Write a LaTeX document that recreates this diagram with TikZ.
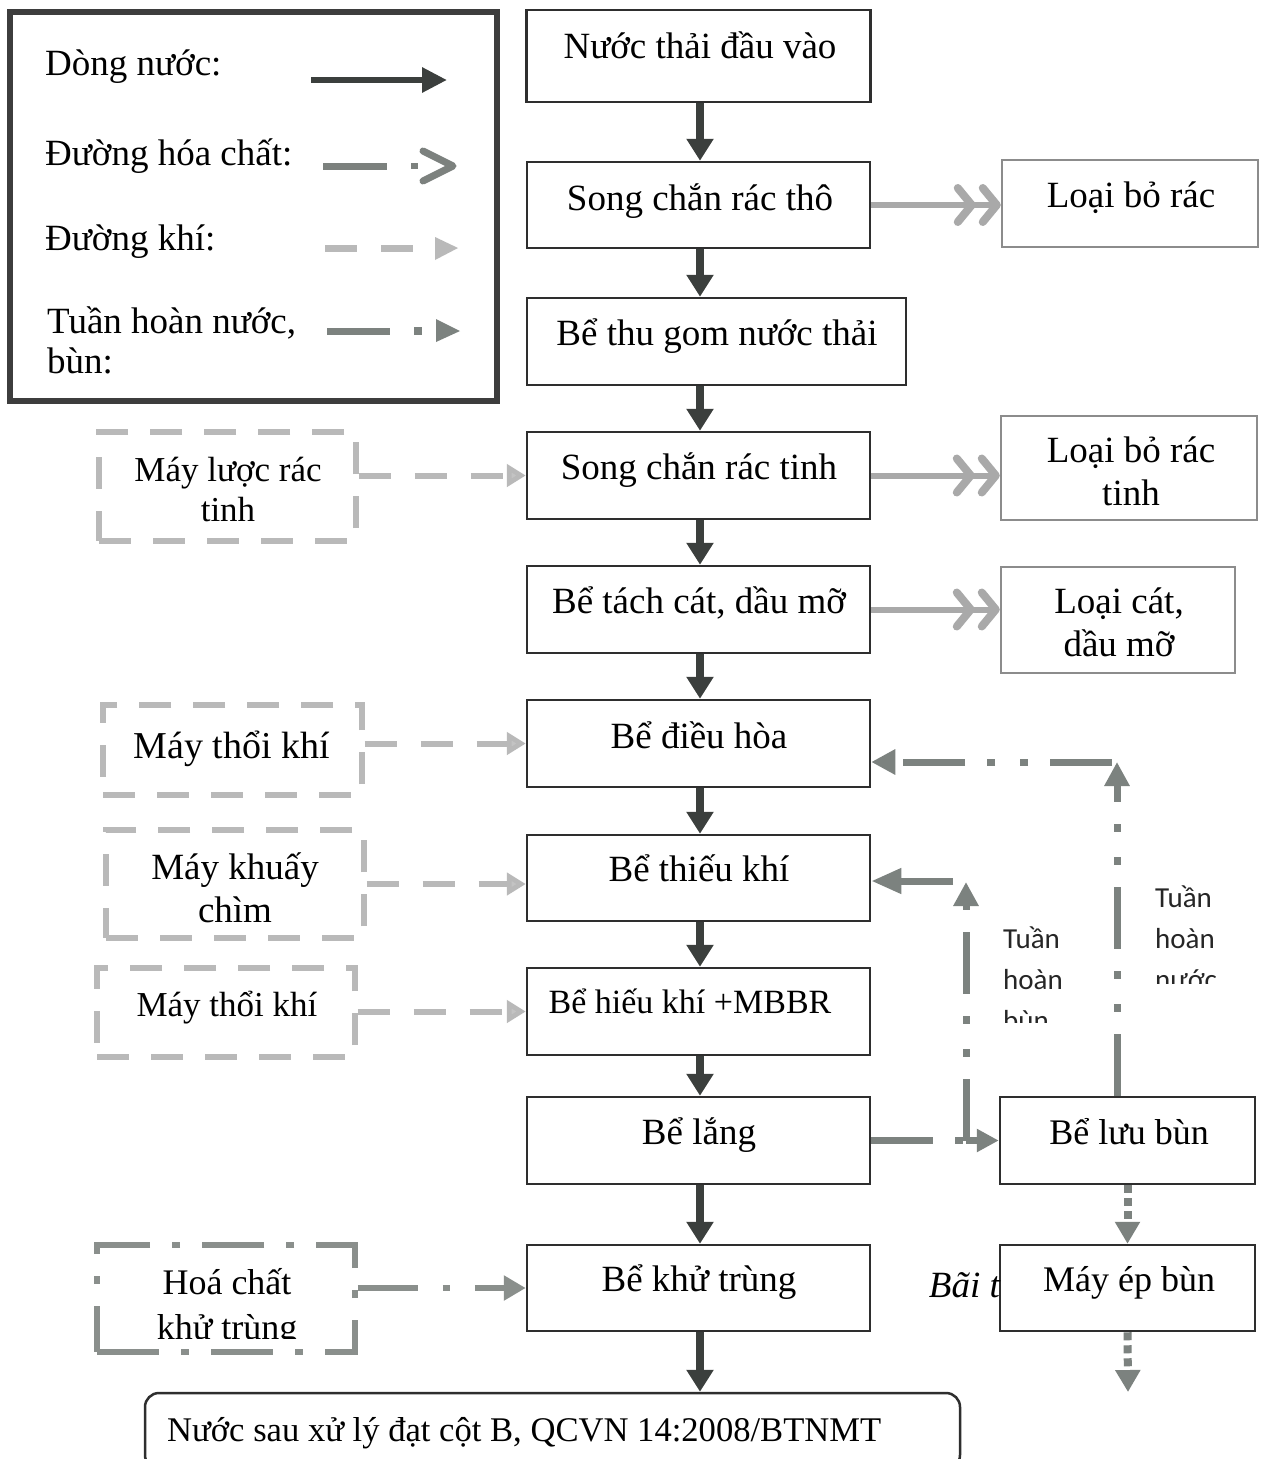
\documentclass[tikz,border=0pt]{standalone}
\usepackage{fontspec}
\setmainfont{Liberation Serif}
\newfontfamily\sansf{Carlito}
\usetikzlibrary{arrows.meta}
\definecolor{boxc}{HTML}{2E2E2E}
\definecolor{waterc}{HTML}{3B3F3D}
\definecolor{grayc}{HTML}{A9A9A9}
\definecolor{airc}{HTML}{B9B9B9}
\definecolor{recc}{HTML}{7C827F}
\definecolor{chemc}{HTML}{8A8F8C}
\definecolor{rboxc}{HTML}{8C8C8C}
\definecolor{legc}{HTML}{3D3D3D}
\newcommand\myfs[1]{\fontsize{#1}{#1}\selectfont}
\tikzset{
  mainbox/.style={draw=boxc,line width=2.5pt,fill=white,inner sep=0pt,rectangle},
  rbox/.style={draw=rboxc,line width=2.5pt,fill=white,inner sep=0pt,rectangle},
  airbox/.style={draw=airc,line width=5.5pt,dash pattern=on 32pt off 22pt,inner sep=0pt,rectangle},
  chembox/.style={draw=chemc,line width=5.5pt,dash pattern=on 62pt off 22pt on 8pt off 22pt,inner sep=0pt,rectangle},
  txt/.style={anchor=base,inner sep=0pt,font=\myfs{37}},
  ltxt/.style={anchor=base west,inner sep=0pt,font=\myfs{37}},
  stxt/.style={anchor=base west,inner sep=0pt,font=\sansf\myfs{29},text=black!85},
  water/.style={draw=waterc,line width=8pt,-{Triangle[length=22pt,width=26pt]}},
  trash/.style={draw=grayc,line width=6pt,-{Straight Barb[length=14pt,width=34pt,line width=8pt,round,sep=3pt]Straight Barb[length=14pt,width=34pt,line width=8pt,round]}},
  air/.style={draw=airc,line width=6pt,dash pattern=on 32pt off 24pt,-{Triangle[length=19pt,width=22pt,fill=airc!85]}},
  chem/.style={draw=chemc,line width=6pt,dash pattern=on 60pt off 25pt on 7pt off 25pt,-{Triangle[length=22pt,width=24pt]}},
  recirc/.style={draw=recc,line width=7pt,dash pattern=on 62pt off 22pt on 8pt off 25pt on 8pt off 22pt,-{Triangle[length=24pt,width=24pt]}},
  recsolid/.style={draw=recc,line width=7pt,-{Triangle[length=30pt,width=24pt]}},
  sludge/.style={draw=recc,line width=8pt,dash pattern=on 8pt off 5pt,-{Triangle[length=22pt,width=24pt]}},
}
\begin{document}
\begin{tikzpicture}[x=1pt,y=-1pt]
\useasboundingbox (0,0) rectangle (1261,1459);
\fill[white] (0,0) rectangle (1261,1459);

% ---------- legend ----------
\draw[draw=legc,line width=6pt] (10,12) rectangle (497,401);
\node[ltxt] (l1) at (45,75) {Dòng nước:};
\node[ltxt] (l2) at (45,165) {Đường hóa chất:};
\node[ltxt] (l3) at (45,250) {Đường khí:};
\node[ltxt] (l4) at (47,333) {Tuần hoàn nước,};
\node[ltxt] (l5) at (47,373) {bùn:};
\draw[draw=waterc,line width=6pt,-{Triangle[length=25pt,width=24pt]}] (311,80) -- (447,80);
\draw[draw=chemc!90!black,line width=7pt] (323,166) -- (387,166);
\fill[chemc!90!black] (411,163) rectangle (418,169);
\draw[draw=chemc!90!black,line width=7pt,line cap=round,line join=round] (423,151) -- (453,166) -- (423,181);
\draw[draw=airc,line width=7pt] (325,248) -- (357,248) (381,248) -- (413,248);
\fill[airc] (435,237) -- (458,248) -- (435,260) -- cycle;
\draw[draw=recc,line width=7pt] (327,331) -- (390,331);
\fill[recc] (414,327) rectangle (422,335);
\fill[recc] (436,319) -- (460,331) -- (436,342) -- cycle;

% ---------- main column ----------
\node[mainbox,minimum width=344pt,minimum height=92pt] (n1) at (698.5,56) {};
\node[mainbox,minimum width=343pt,minimum height=86pt] (n2) at (698.5,205) {};
\node[mainbox,minimum width=379pt,minimum height=87pt] (n3) at (716.5,341.5) {};
\node[mainbox,minimum width=343pt,minimum height=87pt] (n4) at (698.5,475.5) {};
\node[mainbox,minimum width=343pt,minimum height=87pt] (n5) at (698.5,609.5) {};
\node[mainbox,minimum width=343pt,minimum height=87pt] (n6) at (698.5,743.5) {};
\node[mainbox,minimum width=343pt,minimum height=86pt] (n7) at (698.5,878) {};
\node[mainbox,minimum width=343pt,minimum height=87pt] (n8) at (698.5,1011.5) {};
\node[mainbox,minimum width=343pt,minimum height=87pt] (n9) at (698.5,1140.5) {};
\node[mainbox,minimum width=343pt,minimum height=86pt] (n10) at (698.5,1288) {};
\node[mainbox,rounded corners=14pt,minimum width=815pt,minimum height=76pt] (out) at (552.5,1431) {};

\node[txt] (t1) at (700,58) {Nước thải đầu vào};
\node[txt] (t2) at (700,210) {Song chắn rác thô};
\node[txt] (t3) at (717,345) {Bể thu gom nước thải};
\node[txt] (t4) at (699,479) {Song chắn rác tinh};
\node[txt] (t5) at (699,613) {Bể tách cát, dầu mỡ};
\node[txt] (t6) at (699,748) {Bể điều hòa};
\node[txt] (t7) at (699,881) {Bể thiếu khí};
\node[txt,font=\myfs{34}] (t8) at (690,1013) {Bể hiếu khí +MBBR};
\node[txt] (t9) at (699,1144) {Bể lắng};
\node[txt] (t10) at (699,1291) {Bể khử trùng};
\node[txt,anchor=base west,font=\myfs{34.6}] (t11) at (167,1441) {Nước sau xử lý đạt cột B, QCVN 14:2008/BTNMT};

% ---------- right column ----------
\node[rbox,minimum width=256pt,minimum height=87pt] (r1) at (1130,203.5) {};
\node[rbox,minimum width=256pt,minimum height=104pt] (r2) at (1129,468) {};
\node[rbox,minimum width=234pt,minimum height=106pt] (r3) at (1118,620) {};
\node[mainbox,minimum width=255pt,minimum height=87pt] (lb) at (1127.5,1140.5) {};
\node[mainbox,minimum width=255pt,minimum height=86pt] (mep) at (1127.5,1288) {};

\node[txt] (tr1) at (1131,207) {Loại bỏ rác};
\node[txt] (tr2a) at (1131,462) {Loại bỏ rác};
\node[txt] (tr2b) at (1131,505) {tinh};
\node[txt] (tr3a) at (1119,613) {Loại cát,};
\node[txt] (tr3b) at (1119,656) {dầu mỡ};
\node[txt,font=\myfs{36}] (tlb) at (1129,1144) {Bể lưu bùn};
\node[txt,font=\myfs{36}] (tmep) at (1129,1291) {Máy ép bùn};
\node[txt,anchor=base east,font=\itshape\myfs{37}] (tbai) at (1000,1297) {Bãi t};

% ---------- left dashed boxes ----------
\node[airbox,minimum width=257pt,minimum height=109pt] (mlr) at (227.5,486.5) {};
\node[airbox,minimum width=259pt,minimum height=90pt] (mtk1) at (232.5,750) {};
\node[airbox,minimum width=258pt,minimum height=108pt] (mkc) at (235,884) {};
\node[airbox,minimum width=258pt,minimum height=89pt] (mtk2) at (226,1012.5) {};
\node[chembox,minimum width=258pt,minimum height=107pt] (hc) at (226,1298.5) {};

\node[txt,font=\myfs{35}] (tl1a) at (228,481) {Máy lược rác};
\node[txt,font=\myfs{35}] (tl1b) at (228,521) {tinh};
\node[txt,font=\myfs{38}] (tl2) at (232,758) {Máy thổi khí};
\node[txt] (tl3a) at (235,879) {Máy khuấy};
\node[txt] (tl3b) at (235,922) {chìm};
\node[txt,font=\myfs{35}] (tl4) at (227,1016) {Máy thổi khí};
\node[txt,font=\myfs{36}] (tl5a) at (227,1294) {Hoá chất};
\begin{scope}
  \clip (100,1300) rectangle (350,1338);
  \node[txt,font=\myfs{36}] (tl5b) at (227,1339) {khử trùng};
\end{scope}

% ---------- recirculation labels ----------
\node[stxt] (lbl1) at (1003,948) {Tuần};
\node[stxt] (lbl2) at (1003,989) {hoàn};
\begin{scope}
  \clip (995,1000) rectangle (1090,1022);
  \node[stxt] (lbl3) at (1003,1030) {bùn};
\end{scope}
\node[stxt] (lbn1) at (1155,907) {Tuần};
\node[stxt] (lbn2) at (1155,948) {hoàn};
\begin{scope}
  \clip (1145,960) rectangle (1250,983);
  \node[stxt] (lbn3) at (1155,989) {nước};
\end{scope}

% ---------- water flow ----------
\draw[water] (n1.south -| 700,0) -- (n2.north -| 700,0);
\draw[water] (n2.south -| 700,0) -- (n3.north -| 700,0);
\draw[water] (n3.south -| 700,0) -- (n4.north -| 700,0);
\draw[water] (n4.south -| 700,0) -- (n5.north -| 700,0);
\draw[water] (n5.south -| 700,0) -- (n6.north -| 700,0);
\draw[water] (n6.south -| 700,0) -- (n7.north -| 700,0);
\draw[water] (n7.south -| 700,0) -- (n8.north -| 700,0);
\draw[water] (n8.south -| 700,0) -- (n9.north -| 700,0);
\draw[water] (n9.south -| 700,0) -- (n10.north -| 700,0);
\draw[water] (n10.south -| 700,0) -- (out.north -| 700,0);

% ---------- screenings ----------
\draw[trash] (n2.east) -- (n2.east -| r1.west);
\draw[trash] (n4.east) -- (n4.east -| r2.west);
\draw[trash] (n5.east) -- (n5.east -| r3.west);

% ---------- air / mixer ----------
\draw[air] (mlr.east |- n4.west) -- (n4.west);
\draw[air] (mtk1.east |- n6.west) -- (n6.west);
\draw[air] (mkc.east) -- (mkc.east -| n7.west);
\draw[air] (mtk2.east |- n8.west) -- (n8.west);

% ---------- chemical ----------
\draw[chem] (hc.east |- n10.west) -- (n10.west);

% ---------- recirculation ----------
\coordinate (cw) at (1117,762);
\coordinate (cw2) at (1112,762);
\draw[recirc] (lb.north -| cw) -- (cw);
\draw[recirc] (cw2) -- (cw2 -| n6.east);
\coordinate (cs) at (966,1140.5);
\coordinate (csu) at (966,882);
\draw[recirc,-] (n9.east) -- (cs);
\draw[recirc] (cs) -- (csu);
\draw[recsolid,-{Triangle[length=22pt,width=22pt]}] (cs) -- (lb.west);
\coordinate (ct) at (953,881);
\draw[recsolid] (ct) -- (ct -| n7.east);

% ---------- sludge ----------
\coordinate (cend) at (1128,1392);
\draw[sludge] (lb.south) -- (mep.north);
\draw[sludge] (mep.south) -- (cend);
\end{tikzpicture}
\end{document}
